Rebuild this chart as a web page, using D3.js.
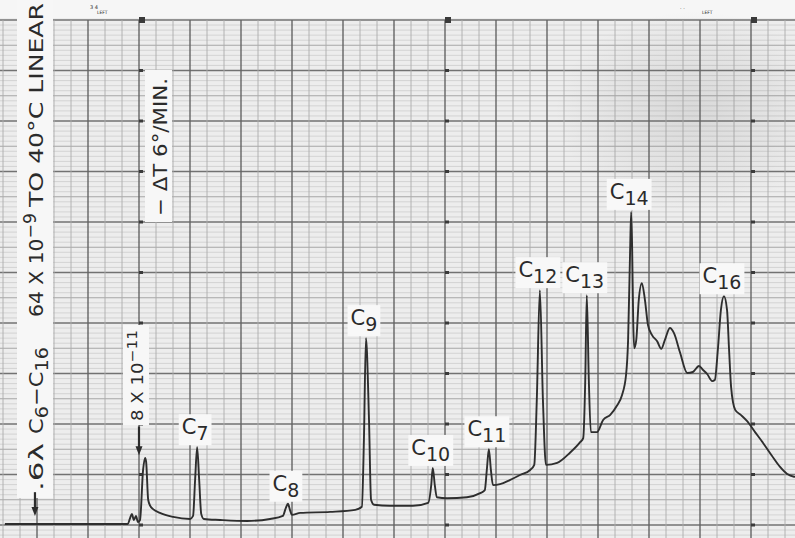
<!DOCTYPE html>
<html>
<head>
<meta charset="utf-8">
<script src="https://cdn.jsdelivr.net/npm/d3@7"></script>
<style>
body { margin: 0; background: #f4f4f4; }
svg { display: block; }
text { font-family: "DejaVu Sans", sans-serif; fill: #2b2b2b; }
</style>
</head>
<body>
<div id="chart"></div>
<script>
////////////////////////////////////////////////////////////////////////
// Data
// time in chart divisions, signal in % of full scale

let time = [-0.63, 1.78, 1.82, 1.86, 1.90, 1.94, 1.98, 2.02, 2.08, 2.12, 2.14, 2.18, 2.22, 2.27, 2.41, 2.67,
  3.00, 3.06, 3.10, 3.14, 3.18, 3.22, 3.27, 3.59, 4.12, 4.57, 4.82, 4.88, 4.92, 4.96, 5.00, 5.16, 5.75,
  6.24, 6.37, 6.41, 6.45, 6.51, 6.55, 6.61, 6.92, 7.37, 7.67, 7.73, 7.76, 7.80, 7.84, 8.04, 8.43, 8.69,
  8.78, 8.82, 8.86, 8.90, 8.94, 9.08, 9.27, 9.47, 9.67, 9.75, 9.80, 9.86, 9.92, 9.98, 10.20, 10.45, 10.65,
  10.71, 10.75, 10.78, 10.82, 10.86, 10.98, 11.10, 11.24, 11.37, 11.47, 11.55, 11.59, 11.63, 11.65, 11.67,
  11.69, 11.71, 11.75, 11.80, 11.86, 11.92, 11.98, 12.06, 12.16, 12.24, 12.31, 12.41, 12.49, 12.61, 12.75,
  12.86, 12.98, 13.06, 13.14, 13.24, 13.29, 13.35, 13.41, 13.47, 13.53, 13.57, 13.61, 13.69, 13.80, 13.92,
  14.08, 14.24, 14.41, 14.57, 14.71, 14.86];

let signal = [0.2, 0.2, 1.2, 2.2, 1.0, 1.8, 0.6, 1.0, 10.9, 13.3, 12.5, 5.0, 3.8, 3.2, 2.4, 1.6,
  1.2, 1.8, 8.9, 15.4, 8.9, 2.2, 1.2, 1.0, 0.8, 1.2, 1.8, 3.4, 4.2, 3.0, 2.0, 2.4, 2.6,
  3.0, 3.6, 16.8, 37.0, 20.8, 5.0, 4.0, 3.8, 3.8, 4.4, 7.9, 11.3, 7.9, 5.5, 5.3, 5.5, 6.3,
  6.9, 10.9, 15.0, 10.9, 7.9, 8.1, 8.9, 9.9, 10.9, 11.9, 24.8, 46.5, 24.8, 11.9, 12.3, 14.3, 16.4,
  17.2, 28.7, 45.5, 28.7, 18.4, 18.4, 20.8, 21.8, 23.6, 25.7, 29.7, 36.6, 54.5, 62.0, 54.5,
  40.6, 35.0, 36.6, 44.6, 47.9, 44.6, 39.6, 37.6, 36.4, 34.9, 36.6, 39.0, 38.0, 34.1, 30.1,
  30.3, 31.5, 30.7, 29.9, 28.5, 28.7, 34.7, 42.6, 45.3, 42.6, 34.7, 27.3, 22.8, 21.8, 20.6,
  18.4, 16.2, 13.7, 11.5, 10.1, 9.5];

let carbons = ["7", "8", "9", "10", "11", "12", "13", "14", "16"];
let peakTimes = [3.14, 4.92, 6.45, 7.76, 8.86, 9.86, 10.78, 11.65, 13.47];

////////////////////////////////////////////////////////////////////////
// Scales, svg

let width = 795, height = 538;

let xScale = d3.scaleLinear().domain([0, 14]).range([37, 751]);
let yScale = d3.scaleLinear().domain([0, 100]).range([525, 20]);

let svg = d3.select("#chart").append("svg")
  .attr("width", width)
  .attr("height", height);

svg.append("rect")
  .attr("width", width).attr("height", height)
  .attr("fill", "#ededed");

// top edge of the paper
svg.append("rect")
  .attr("width", width).attr("height", yScale(100) - 2)
  .attr("fill", "#f6f6f6");

////////////////////////////////////////////////////////////////////////
// Chart paper grid

let grid = svg.append("g");

function hLines(values, color, w) {
  grid.append("g").selectAll("line")
    .data(values).enter().append("line")
    .attr("x1", 0).attr("x2", width)
    .attr("y1", d => yScale(d)).attr("y2", d => yScale(d))
    .attr("stroke", color).attr("stroke-width", w);
}

function vLines(values, color, w) {
  grid.append("g").selectAll("line")
    .data(values).enter().append("line")
    .attr("x1", d => xScale(d)).attr("x2", d => xScale(d))
    .attr("y1", yScale(100)).attr("y2", height)
    .attr("stroke", color).attr("stroke-width", w);
}

hLines(d3.range(-3, 101, 1).filter(d => d % 5 != 0), "#c8c8c8", 0.7);
hLines(d3.range(5, 100, 10), "#9e9e9e", 0.9);
hLines(d3.range(0, 101, 10), "#727272", 1.3);
vLines(d3.range(-1, 15.4, 1 / 3).filter(d => Math.abs(d - Math.round(d)) > 0.1), "#ababab", 0.9);
vLines(d3.range(-1, 16, 1), "#646464", 1.4);

// event marks on three of the verticals
let eventCols = [2, 8, 14];
eventCols.forEach(function(c) {
  grid.append("g").selectAll("rect")
    .data(d3.range(0, 101, 10)).enter().append("rect")
    .attr("x", xScale(c))
    .attr("y", d => yScale(d) - (d == 100 ? 3 : 1.5))
    .attr("width", d => d == 100 ? 6 : 4)
    .attr("height", d => d == 100 ? 6 : 3)
    .attr("fill", "#3a3a3a");
});

// darker smudge on the paper
let defs = svg.append("defs");
let grad = defs.append("radialGradient").attr("id", "smudge");
grad.append("stop").attr("offset", "0%").attr("stop-color", "#555").attr("stop-opacity", 0.13);
grad.append("stop").attr("offset", "60%").attr("stop-color", "#555").attr("stop-opacity", 0.06);
grad.append("stop").attr("offset", "100%").attr("stop-color", "#555").attr("stop-opacity", 0);
svg.append("ellipse")
  .attr("cx", xScale(12.9)).attr("cy", yScale(82))
  .attr("rx", 140).attr("ry", 100)
  .attr("fill", "url(#smudge)");

// tiny printed marks on the top margin
svg.append("text").attr("x", 90).attr("y", 9).attr("font-size", 5).text("3 4");
svg.append("text").attr("x", 97).attr("y", 14).attr("font-size", 4.5).text("LEFT");
svg.append("text").attr("x", 680).attr("y", 10).attr("font-size", 5).text("\u00b7 \u00b7");
svg.append("text").attr("x", 702).attr("y", 14).attr("font-size", 4.5).text("LEFT");

////////////////////////////////////////////////////////////////////////
// Trace

let pts = time.map((t, i) => [t, signal[i]]);

let line = d3.line()
  .x(d => xScale(d[0]))
  .y(d => yScale(d[1]))
  .curve(d3.curveMonotoneX);

svg.append("path")
  .datum(pts)
  .attr("d", line)
  .attr("fill", "none")
  .attr("stroke", "#2e2e2e")
  .attr("stroke-width", 1.9)
  .attr("stroke-linejoin", "round");

////////////////////////////////////////////////////////////////////////
// Peak labels, pasted on white slips

function signalAt(t) {
  let i = d3.minIndex(time, d => Math.abs(d - t));
  return signal[i];
}

let labels = svg.append("g");
carbons.forEach(function(c, i) {
  let t = peakTimes[i];
  let g = labels.append("g");
  let txt = g.append("text")
    .attr("x", xScale(t) - 2)
    .attr("y", yScale(signalAt(t)) - 13)
    .attr("text-anchor", "middle")
    .attr("font-size", 21);
  txt.append("tspan").text("C");
  txt.append("tspan").attr("font-size", 19).attr("dy", 6).text(c);
  let b = txt.node().getBBox();
  g.insert("rect", "text")
    .attr("x", b.x - 3).attr("y", b.y - 1)
    .attr("width", b.width + 6).attr("height", b.height + 2)
    .attr("fill", "#f8f8f8");
});

////////////////////////////////////////////////////////////////////////
// Rotated notes

function slip(x, y, w, h) {
  svg.append("rect").attr("x", x).attr("y", y).attr("width", w).attr("height", h)
    .attr("fill", "#f7f7f7");
}

// parts: [text, shift] pairs, shift is baseline offset (subscript +, superscript -)
function vtext(x, y, len, size, parts) {
  let t = svg.append("text")
    .attr("transform", "translate(" + x + "," + y + ") rotate(-90)")
    .attr("font-size", size)
    .attr("textLength", len)
    .attr("lengthAdjust", "spacingAndGlyphs");
  let cur = 0;
  parts.forEach(function(p) {
    let s = t.append("tspan").attr("dy", p[1] - cur).text(p[0]);
    if (p[1] != 0) s.attr("font-size", size * 0.85);
    cur = p[1];
  });
}

slip(17, 0, 36, 498);
vtext(43, 491, 48, 20, [[".6\u03bb", 0]]);
vtext(43, 434, 87, 20, [["C", 0], ["6", 5], ["\u2212C", 0], ["16", 5]]);
vtext(43, 317, 104, 20, [["64 X 10", 0], ["\u22129", -7]]);
vtext(43, 207, 204, 20, [["TO 40\u00b0C LINEAR", 0]]);

slip(145, 70, 27, 152);
vtext(167, 216, 138, 20, [["\u2212 \u0394T 6\u00b0/MIN.", 0]]);

slip(123, 325, 26, 100);
vtext(143, 421, 91, 16, [["8 X 10", 0], ["\u221211", -6]]);

// arrows
function arrow(x, y1, y2) {
  svg.append("line").attr("x1", x).attr("x2", x).attr("y1", y1).attr("y2", y2 - 6)
    .attr("stroke", "#2b2b2b").attr("stroke-width", 2.2);
  svg.append("path")
    .attr("d", "M" + (x - 3.5) + "," + (y2 - 9) + "L" + (x + 3.5) + "," + (y2 - 9) + "L" + x + "," + y2 + "Z")
    .attr("fill", "#2b2b2b");
}

arrow(xScale(-0.04), yScale(6.5), yScale(1.8));
arrow(xScale(2.0), yScale(19.5), yScale(13.8));
</script>
</body>
</html>
